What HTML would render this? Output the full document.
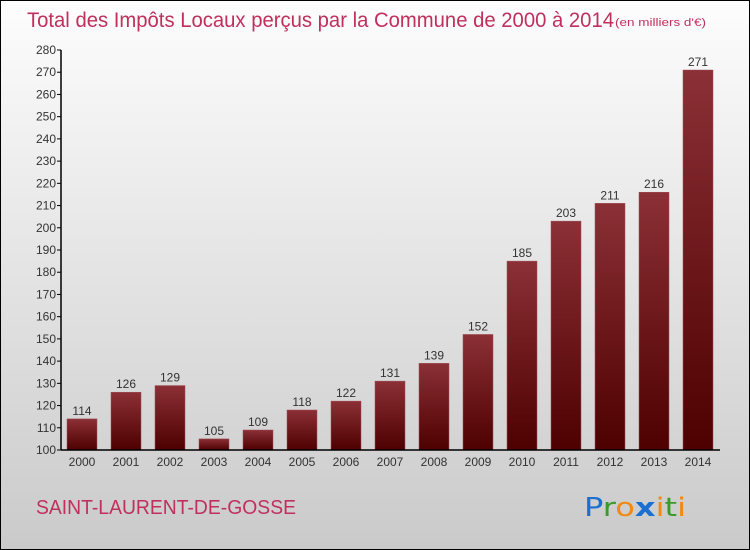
<!DOCTYPE html>
<html><head><meta charset="utf-8"><style>
html,body{margin:0;padding:0}
body{width:750px;height:550px;overflow:hidden;font-family:"Liberation Sans",sans-serif}
#frame{position:absolute;left:0;top:0;width:748px;height:548px;border:1px solid #000;background:linear-gradient(#fdfdfd,#e6e6e6 45%,#cacaca)}
</style></head><body>
<div id="frame">
<svg id="chart" width="750" height="550" style="position:absolute;left:-1px;top:-1px">
<defs><linearGradient id="bg" x1="0" y1="0" x2="0" y2="1"><stop offset="0" stop-color="#8b3036"/><stop offset="1" stop-color="#4e0000"/></linearGradient></defs>
<text x="27" y="27" font-size="21" fill="#c0305e" textLength="587" lengthAdjust="spacingAndGlyphs">Total des Impôts Locaux perçus par la Commune de 2000 à 2014</text>
<text x="615" y="26" font-size="11" fill="#c0305e" textLength="91" lengthAdjust="spacingAndGlyphs">(en milliers d'€)</text>
<text x="36" y="514" font-size="20" fill="#c0305e" textLength="260" lengthAdjust="spacingAndGlyphs">SAINT-LAURENT-DE-GOSSE</text>
<g font-size="26" font-family="DejaVu Sans, sans-serif">
<text x="584" y="516" textLength="102" lengthAdjust="spacingAndGlyphs"><tspan fill="#1a6fd0">P</tspan><tspan fill="#3a9a2a">r</tspan><tspan fill="#f08a10">o</tspan><tspan fill="#1a6fd0" font-weight="bold">x</tspan><tspan fill="#f08a10">i</tspan><tspan fill="#3a9a2a">t</tspan><tspan fill="#f08a10">i</tspan></text>
</g>
<g id="plot"></g>
</svg>
</div>
<script>
const years=["2000","2001","2002","2003","2004","2005","2006","2007","2008","2009","2010","2011","2012","2013","2014"];
const values=[114,126,129,105,109,118,122,131,139,152,185,203,211,216,271];
const yTicks=[100,110,120,130,140,150,160,170,180,190,200,210,220,230,240,250,260,270,280];
const NS="http://www.w3.org/2000/svg";
const g=document.getElementById('plot');
const yMin=100,yMax=280,y0=450,y1=50;
const y=v=>y0-(v-yMin)/(yMax-yMin)*(y0-y1);
const x=i=>82+i*44;
function mk(t,a){const e=document.createElementNS(NS,t);for(const k in a)e.setAttribute(k,a[k]);g.appendChild(e);return e;}
values.forEach((v,i)=>{
 const r=mk('rect',{x:x(i)-15,y:y(v),width:30,height:y0-y(v),fill:'url(#bg)',stroke:'#a05058','stroke-width':0.5});
 
 
 const t=mk('text',{x:x(i),y:y(v)-4,'font-size':12,fill:'#333','text-anchor':'middle'});
 t.textContent=v;
 
 
 const xl=mk('text',{x:x(i),y:466,'font-size':12,fill:'#333','text-anchor':'middle'});
 xl.textContent=years[i];
 
 
});
yTicks.forEach(v=>{
 mk('line',{x1:57,x2:61,y1:y(v),y2:y(v),stroke:'#000'});
 const t=mk('text',{x:56,y:y(v)+4,'font-size':12,fill:'#333','text-anchor':'end'});
 t.textContent=v;
 
 
});
const ya=mk('line',{x1:61,x2:61,y1:50,y2:450,stroke:'#000','stroke-width':1.5});


const xa=mk('line',{x1:61,x2:720,y1:450,y2:450,stroke:'#000','stroke-width':1.5});


</script>
</body></html>
